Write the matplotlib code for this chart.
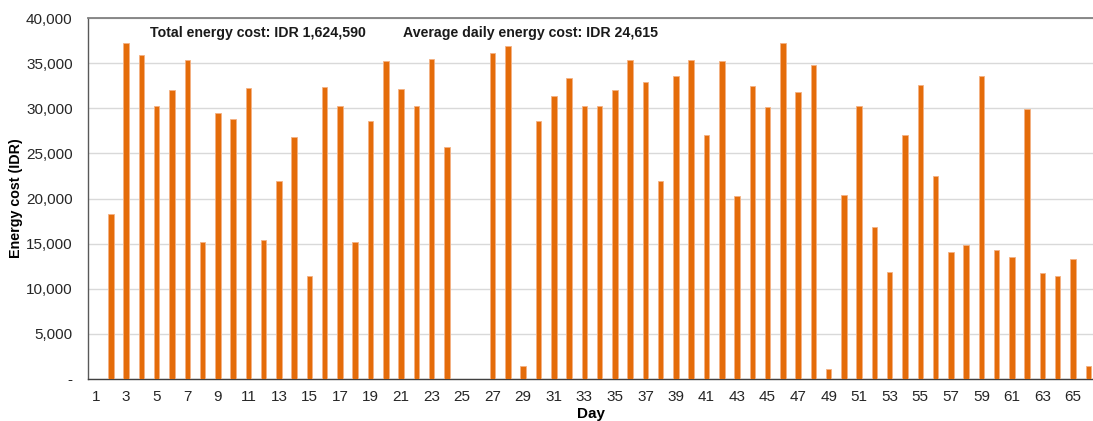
import matplotlib
matplotlib.use("Agg")
import matplotlib.pyplot as plt
from matplotlib.ticker import FuncFormatter

plt.rcParams['font.family'] = ['Liberation Sans', 'DejaVu Sans']

days = list(range(1, 67))
costs = [
    0, 18250, 37200, 35870, 30250, 32020, 35300, 15140, 29440, 28850,
    32240, 15360, 21940, 26780, 11450, 32300, 30300, 15180, 28590, 35200,
    32100, 30300, 35460, 25670, 0, 0, 36080, 36940, 1480, 28590,
    31360, 33300, 30250, 30300, 32000, 35400, 32900, 21940, 33600, 35300,
    27000, 35270, 20300, 32460, 30100, 37200, 31800, 34800, 1100, 20400,
    30250, 16840, 11900, 27000, 32600, 22500, 14070, 14900, 33600, 14250,
    13480, 29900, 11750, 11410, 13260, 1480,
]
total_text = "Total energy cost: IDR 1,624,590"
avg_text = "Average daily energy cost: IDR 24,615"

fig = plt.figure(figsize=(10.93, 4.21), dpi=100)
ax = fig.add_axes([88/1093, 1-379/421, 1-88/1093, (379-18)/421])

ax.bar(days, costs, width=0.36, color='#E46C0A', edgecolor='#F4B183', linewidth=0.6, zorder=3)

ax.set_ylim(0, 40000)
ax.set_xlim(0.5, 66.31)
ax.set_yticks(range(0, 40001, 5000))
ax.yaxis.set_major_formatter(FuncFormatter(lambda v, p: '-' if v == 0 else f'{int(v):,}'))
ax.set_xticks(days[::2])
ax.set_xticklabels([str(d) for d in days[::2]])
ax.tick_params(axis='both', length=0, labelsize=11, colors='#262626', pad=8)
ax.tick_params(axis='y', pad=11)
ax.grid(axis='y', color='#D9D9D9', linewidth=1, zorder=0)
ax.set_axisbelow(True)

ax.spines['right'].set_visible(False)
ax.spines['top'].set_color('#808080')
ax.spines['top'].set_linewidth(1.3)
ax.spines['left'].set_color('#595959')
ax.spines['bottom'].set_color('#404040')
ax.spines['left'].set_linewidth(1.0)
ax.spines['bottom'].set_linewidth(1.0)

ax.set_ylabel('Energy cost (IDR)', fontsize=10.3, fontweight='bold')
ax.yaxis.set_label_coords((23 - 88) / 1005, 0.5)
ax.set_xlabel('Day', fontsize=11, fontweight='bold', labelpad=2)

ax.annotate(total_text, xy=(150/1093, 1-33/421), xycoords='figure fraction',
            fontsize=10.2, fontweight='bold', va='center', ha='left', color='#1a1a1a')
ax.annotate(avg_text, xy=(403/1093, 1-33/421), xycoords='figure fraction',
            fontsize=10.2, fontweight='bold', va='center', ha='left', color='#1a1a1a')

fig.savefig('out.png', dpi=100)
